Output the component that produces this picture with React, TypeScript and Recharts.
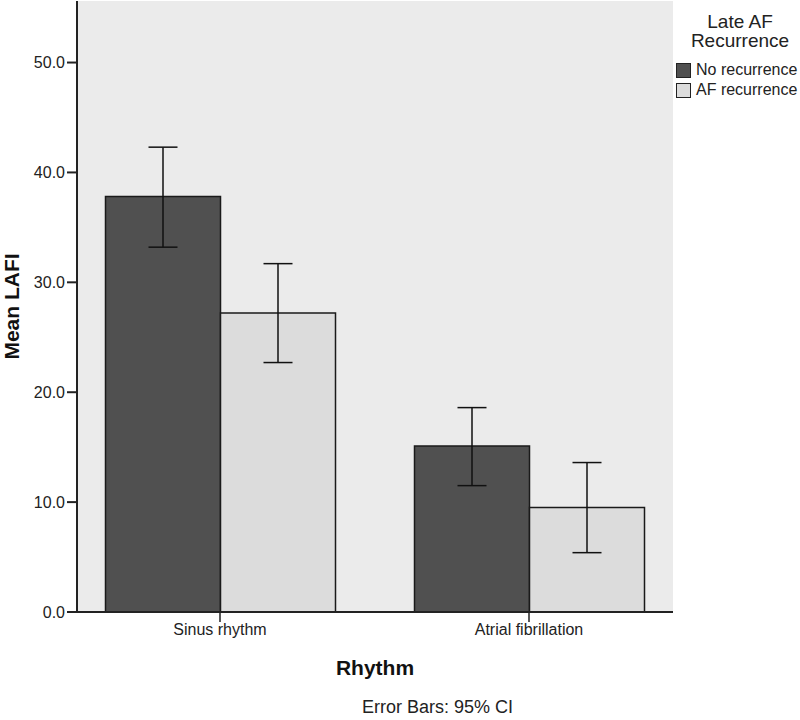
import { Bar, BarChart, CartesianGrid, ErrorBar, XAxis, YAxis } from "recharts";

const FONT = '"Liberation Sans", Arial, sans-serif';

// categories and values (mean LAFI with 95% CI)
const rhythms = ["Sinus rhythm", "Atrial fibrillation"];
const seriesNames = ["No recurrence", "AF recurrence"];
const noRecMean = [37.8, 15.1];
const noRecLow = [33.2, 11.5];
const noRecHigh = [42.3, 18.6];
const afRecMean = [27.2, 9.5];
const afRecLow = [22.7, 5.4];
const afRecHigh = [31.7, 13.6];
const yTicks = [0, 10, 20, 30, 40, 50];

const data = rhythms.map((rhythm, i) => ({
  rhythm,
  noRec: noRecMean[i],
  noRecErr: [noRecMean[i] - noRecLow[i], noRecHigh[i] - noRecMean[i]],
  afRec: afRecMean[i],
  afRecErr: [afRecMean[i] - afRecLow[i], afRecHigh[i] - afRecMean[i]],
}));

const DARK = "#505050";
const LIGHT = "#dcdcdc";
const BORDER = "#6e6e6e";
const seriesColors = [DARK, LIGHT];

function LegendBox() {
  return (
    <div
      style={{
        position: "absolute",
        left: 672,
        top: 12,
        width: 136,
        fontFamily: FONT,
        color: "#222",
        whiteSpace: "nowrap",
      }}
    >
      <div style={{ textAlign: "center", fontSize: 19, lineHeight: "19px", marginBottom: 10 }}>
        Late AF
        <br />
        Recurrence
      </div>
      {seriesNames.map((name, i) => (
        <div key={name} style={{ display: "flex", alignItems: "center", height: 20, fontSize: 16, paddingLeft: 4 }}>
          <span
            style={{
              display: "inline-block",
              width: 13,
              height: 13,
              background: seriesColors[i],
              border: "1px solid #222",
              marginRight: 5,
            }}
          />
          {name}
        </div>
      ))}
    </div>
  );
}

export default function App() {
  return (
    <div style={{ position: "absolute", left: 0, top: 0, width: 800, height: 720, background: "#fff", overflow: "hidden" }}>
      <BarChart
        width={800}
        height={720}
        data={data}
        margin={{ top: 1, right: 127, bottom: 48, left: 0 }}
        barGap={0}
        barSize={115}
      >
        <CartesianGrid horizontal={false} vertical={false} fill="#ebebeb" />
        <XAxis
          dataKey="rhythm"
          height={60}
          padding={{ left: -11.5, right: -10.5 }}
          tickSize={10}
          tickLine={{ stroke: "#222", strokeWidth: 1.5 }}
          axisLine={{ stroke: "#222", strokeWidth: 2 }}
          tick={{ fill: "#222", fontSize: 16, fontFamily: FONT }}
          label={{
            value: "Rhythm",
            position: "insideBottom",
            offset: -3,
            fill: "#111",
            fontSize: 21,
            fontWeight: "bold",
            fontFamily: FONT,
          }}
        />
        <XAxis
          xAxisId="top"
          dataKey="rhythm"
          orientation="top"
          height={0}
          tick={false}
          tickLine={false}
          axisLine={{ stroke: BORDER, strokeWidth: 3 }}
        />
        <YAxis
          width={77}
          domain={[0, 55.6]}
          ticks={yTicks}
          tickSize={10}
          tickFormatter={(v: number) => v.toFixed(1)}
          tickLine={{ stroke: "#222", strokeWidth: 2 }}
          axisLine={{ stroke: "#222", strokeWidth: 2 }}
          tick={{ fill: "#222", fontSize: 16, fontFamily: FONT }}
          label={{
            content: (p: any) => {
              const vb = p.viewBox || { y: 1, height: 611 };
              const cy = vb.y + vb.height / 2;
              return (
                <text
                  x={19}
                  y={cy}
                  transform={`rotate(-90 19 ${cy})`}
                  textAnchor="middle"
                  fill="#111"
                  fontSize={21}
                  fontWeight="bold"
                  fontFamily={FONT}
                >
                  Mean LAFI
                </text>
              );
            },
          }}
        />
        <YAxis
          yAxisId="right"
          orientation="right"
          width={0}
          tick={false}
          tickLine={false}
          axisLine={{ stroke: BORDER, strokeWidth: 2 }}
        />
        <Bar dataKey="noRec" name={seriesNames[0]} fill={DARK} stroke="#1a1a1a" strokeWidth={1.5} isAnimationActive={false}>
          <ErrorBar dataKey="noRecErr" width={14.5} stroke="#111" strokeWidth={1.5} direction="y" isAnimationActive={false} />
        </Bar>
        <Bar dataKey="afRec" name={seriesNames[1]} fill={LIGHT} stroke="#1a1a1a" strokeWidth={1.5} isAnimationActive={false}>
          <ErrorBar dataKey="afRecErr" width={14.5} stroke="#111" strokeWidth={1.5} direction="y" isAnimationActive={false} />
        </Bar>
      </BarChart>
      <LegendBox />
      <div
        style={{
          position: "absolute",
          left: 362,
          top: 697,
          fontFamily: FONT,
          fontSize: 18,
          lineHeight: "20px",
          color: "#222",
          whiteSpace: "nowrap",
        }}
      >
        Error Bars: 95% CI
      </div>
    </div>
  );
}
